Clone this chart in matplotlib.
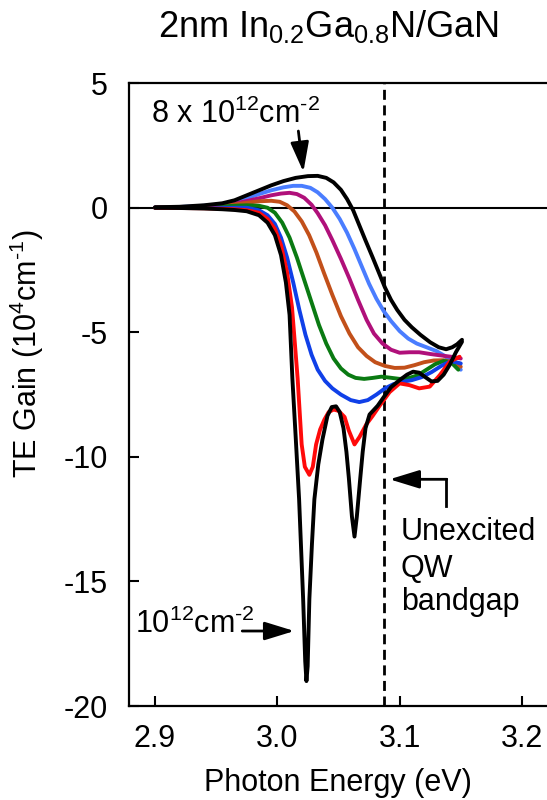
import numpy as np
import matplotlib
matplotlib.use("Agg")
import matplotlib.pyplot as plt

plt.rcParams["font.family"] = ["Liberation Sans", "DejaVu Sans"]
plt.rcParams["mathtext.default"] = "regular"

# TE gain spectra of a 2nm In0.2Ga0.8N/GaN QW, sheet density 1e12 .. 8e12 cm^-2
E_1 = [2.90, 2.92, 2.94, 2.955, 2.965, 2.975, 2.985, 2.992, 2.998, 3.003,
       3.007, 3.010, 3.0123, 3.015, 3.0178, 3.0211, 3.0228, 3.0238, 3.0248,
       3.0262, 3.0283, 3.0303, 3.0335, 3.0369, 3.041, 3.0445, 3.048, 3.051,
       3.0541, 3.0565, 3.0585, 3.061, 3.0631, 3.065, 3.0678, 3.0698, 3.0721,
       3.0754, 3.082, 3.087, 3.093, 3.100, 3.106, 3.111, 3.116, 3.121, 3.126,
       3.131, 3.136, 3.141, 3.146, 3.151]
G_1 = [0.0, -0.01, -0.03, -0.06, -0.09, -0.14, -0.3, -0.6, -1.1, -1.9,
       -3.0, -4.3, -6.85, -9.2, -11.7, -15.7, -18.2, -19.0, -18.4,
       -15.7, -13.5, -11.7, -10.3, -9.3, -8.35, -8.0, -7.97, -8.2,
       -8.85, -9.8, -10.86, -12.4, -13.2, -12.4, -10.86, -9.8, -8.85,
       -8.3, -7.95, -7.6, -7.2, -6.92, -6.7, -6.58, -6.62, -6.8, -6.97,
       -6.95, -6.7, -6.3, -5.8, -5.38]

E_2 = [2.90, 2.92, 2.94, 2.955, 2.965, 2.975, 2.985, 2.992, 2.998, 3.003,
       3.008, 3.012, 3.0166, 3.0199, 3.0225, 3.0262, 3.029, 3.0317, 3.035,
       3.0385, 3.042, 3.046, 3.050, 3.055, 3.0585, 3.0631, 3.0672, 3.0727,
       3.078, 3.0836, 3.0918, 3.100, 3.108, 3.116, 3.1246, 3.1328, 3.141,
       3.149]
G_2 = [0.0, -0.01, -0.02, -0.04, -0.06, -0.1, -0.2, -0.45, -0.85, -1.5,
       -2.6, -4.0, -6.85, -9.5, -10.4, -10.72, -10.4, -9.5, -8.9,
       -8.5, -8.2, -8.1, -8.15, -8.4, -8.95, -9.5, -9.2, -8.7,
       -8.35, -7.95, -7.4, -7.05, -7.12, -7.25, -7.18, -6.72, -6.18,
       -5.98]

E_3 = [2.90, 2.92, 2.94, 2.955, 2.965, 2.975, 2.985, 2.992, 2.998, 3.003,
       3.008, 3.013, 3.018, 3.023, 3.028, 3.033, 3.039, 3.045, 3.052, 3.060,
       3.067, 3.074, 3.081, 3.088, 3.095, 3.103, 3.110, 3.118, 3.126, 3.134,
       3.142, 3.150]
G_3 = [0.0, 0.0, -0.01, 0.0, 0.0, 0.0, -0.1, -0.3, -0.65, -1.2,
       -2.0, -3.0, -4.1, -5.1, -5.9, -6.5, -6.95, -7.25, -7.5, -7.72,
       -7.8, -7.72, -7.5, -7.25, -7.08, -6.98, -6.92, -6.8, -6.6, -6.35,
       -6.15, -6.25]

E_4 = [2.90, 2.92, 2.94, 2.955, 2.965, 2.975, 2.985, 2.992, 2.998, 3.004,
       3.010, 3.016, 3.022, 3.028, 3.034, 3.040, 3.046, 3.052, 3.058, 3.064,
       3.071, 3.078, 3.085, 3.092, 3.100, 3.108, 3.115, 3.122, 3.129, 3.136,
       3.142, 3.148]
G_4 = [0.0, 0.01, 0.02, 0.05, 0.08, 0.1, 0.08, 0.0, -0.2, -0.6,
       -1.2, -2.0, -2.9, -3.8, -4.7, -5.45, -6.05, -6.45, -6.7, -6.83,
       -6.87, -6.83, -6.78, -6.82, -6.87, -6.83, -6.72, -6.5, -6.28, -6.15,
       -6.2, -6.5]

E_5 = [2.90, 2.92, 2.94, 2.955, 2.965, 2.975, 2.985, 2.995, 3.002, 3.008,
       3.014, 3.020, 3.026, 3.032, 3.038, 3.045, 3.052, 3.059, 3.066, 3.073,
       3.080, 3.088, 3.096, 3.104, 3.112, 3.120, 3.128, 3.136, 3.143, 3.150]
G_5 = [0.01, 0.02, 0.04, 0.08, 0.13, 0.2, 0.26, 0.28, 0.24, 0.1,
       -0.15, -0.55, -1.1, -1.8, -2.6, -3.5, -4.35, -5.05, -5.6, -5.95,
       -6.2, -6.35, -6.43, -6.42, -6.32, -6.2, -6.13, -6.12, -6.2, -6.38]

E_6 = [2.90, 2.92, 2.94, 2.955, 2.965, 2.975, 2.985, 2.995, 3.003, 3.010,
       3.016, 3.022, 3.028, 3.033, 3.039, 3.045, 3.052, 3.059, 3.066, 3.073,
       3.079, 3.086, 3.093, 3.100, 3.108, 3.116, 3.125, 3.134, 3.142, 3.150]
G_6 = [0.01, 0.02, 0.05, 0.1, 0.17, 0.27, 0.38, 0.5, 0.57, 0.6,
       0.55, 0.4, 0.12, -0.22, -0.7, -1.3, -2.05, -2.85, -3.7, -4.5,
       -5.05, -5.45, -5.7, -5.82, -5.8, -5.8, -5.87, -5.93, -5.98, -6.05]

E_7 = [2.90, 2.92, 2.94, 2.955, 2.965, 2.975, 2.985, 2.995, 3.005, 3.013,
       3.020, 3.027, 3.033, 3.039, 3.045, 3.051, 3.057, 3.063, 3.069, 3.075,
       3.081, 3.087, 3.093, 3.100, 3.107, 3.114, 3.122, 3.130, 3.137, 3.143,
       3.150]
G_7 = [0.02, 0.03, 0.08, 0.14, 0.24, 0.38, 0.55, 0.7, 0.82, 0.88,
       0.88, 0.8, 0.62, 0.35, 0.0, -0.45, -1.0, -1.65, -2.35, -3.05,
       -3.65, -4.15, -4.55, -4.95, -5.25, -5.45, -5.6, -5.75, -5.95, -6.2,
       -6.5]

E_8 = [2.90, 2.92, 2.94, 2.955, 2.965, 2.975, 2.985, 2.995, 3.005, 3.015,
       3.025, 3.033, 3.040, 3.046, 3.052, 3.057, 3.062, 3.067, 3.072, 3.078,
       3.083, 3.088, 3.093, 3.098, 3.104, 3.110, 3.117, 3.125, 3.132, 3.138,
       3.143, 3.147, 3.151]
G_8 = [0.02, 0.04, 0.1, 0.18, 0.3, 0.5, 0.7, 0.9, 1.07, 1.2,
       1.27, 1.28, 1.2, 1.02, 0.72, 0.35, -0.1, -0.7, -1.3, -2.0,
       -2.6, -3.2, -3.7, -4.1, -4.5, -4.8, -5.1, -5.4, -5.6, -5.68,
       -5.6, -5.48, -5.3]

colors = ["#4a7dff", "#b0107a", "#c2501a", "#0a7a12", "#1040e8", "#ff0a0a",
          "black", "black"]
curves = [(E_7, G_7), (E_6, G_6), (E_5, G_5), (E_4, G_4), (E_3, G_3),
          (E_2, G_2), (E_1, G_1), (E_8, G_8)]

qw_bandgap = 3.087
HY = "\u2010"  # plain hyphen inside superscripts
FS = 22

fig = plt.figure(figsize=(5.47, 8.0), dpi=100)
ax = fig.add_axes([0.2358, 0.1175, 1.0 - 0.2358, 0.896 - 0.1175])

ax.axhline(0, color="black", lw=1.5, zorder=1)
ax.axvline(qw_bandgap, color="black", lw=2, dashes=(3.6, 2.0), zorder=1)

for (e, g), c in zip(curves, colors):
    ax.plot(e, g, color=c, lw=2.8, solid_joinstyle="round",
            solid_capstyle="round", zorder=3)

ax.set_xlim(2.8787, 3.2205)
ax.set_ylim(-20, 5)
ax.set_xticks([2.9, 3.0, 3.1, 3.2])
ax.set_xticklabels(["2.9", "3.0", "3.1", "3.2"])
ax.set_yticks([-20, -15, -10, -5, 0, 5])
ax.set_yticklabels(["-20", "-15", "-10", "-5", "0", "5"])
ax.tick_params(axis="both", direction="in", length=7, width=1.5,
               labelsize=FS)
ax.tick_params(axis="x", pad=13)
ax.tick_params(axis="y", pad=15)
ax.spines["right"].set_visible(False)
for s in ("left", "top", "bottom"):
    ax.spines[s].set_linewidth(1.6)

ax.set_xlabel("Photon Energy (eV)", fontsize=FS, labelpad=10)
ax.set_ylabel("TE Gain (10$^{4}$cm$^{" + HY + "1}$)", fontsize=FS)
ax.yaxis.set_label_coords(-0.198, 0.565)

fig.text(0.6, 0.954, "2nm In$_{0.2}$Ga$_{0.8}$N/GaN", fontsize=26,
         ha="center", va="baseline")

arrow_kw = dict(arrowstyle="-|>,head_length=0.65,head_width=0.2",
                color="black", lw=2, mutation_scale=28, shrinkA=0, shrinkB=0)

# density labels
ax.text(2.8967, 3.41, "8 x 10$^{12}$cm$^{" + HY + "2}$", fontsize=FS,
        ha="left", va="baseline")
ax.annotate("", xy=(3.0213, 1.44), xytext=(3.0172, 3.08), arrowprops=arrow_kw)
ax.text(2.8836, -17.07, "10$^{12}$cm$^{" + HY + "2}$", fontsize=FS,
        ha="left", va="baseline")
ax.annotate("", xy=(3.0139, -16.99), xytext=(2.9713, -16.99),
            arrowprops=arrow_kw)

# bandgap marker
ax.plot([3.1377, 3.1377], [-11.98, -10.9], color="black", lw=2)
ax.annotate("", xy=(3.0918, -10.9), xytext=(3.1385, -10.9),
            arrowprops=arrow_kw)
for y, line in zip([-13.34, -14.82, -16.14], ["Unexcited", "QW", "bandgap"]):
    ax.text(3.1008, y, line, fontsize=FS, ha="left", va="baseline")

fig.savefig("out.png", dpi=100)
